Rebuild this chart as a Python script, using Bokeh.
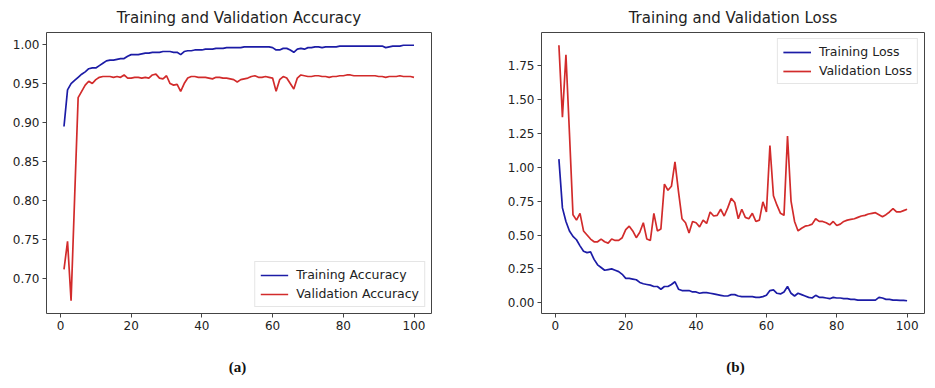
from bokeh.plotting import figure
from bokeh.models import Range1d, FixedTicker, Legend, LegendItem, NumeralTickFormatter, Div, Spacer
from bokeh.layouts import row, column
from bokeh.embed import file_html
from bokeh.resources import INLINE

epochs = list(range(1, 101))

train_acc = [0.895, 0.942, 0.950, 0.954, 0.958, 0.962, 0.965, 0.969, 0.970, 0.970,
             0.973, 0.976, 0.979, 0.980, 0.980, 0.981, 0.982, 0.982, 0.985, 0.987,
             0.987, 0.987, 0.988, 0.989, 0.989, 0.990, 0.990, 0.990, 0.991, 0.991,
             0.991, 0.990, 0.990, 0.987, 0.991, 0.992, 0.992, 0.993, 0.993, 0.993,
             0.994, 0.994, 0.994, 0.995, 0.995, 0.995, 0.996, 0.996, 0.996, 0.996,
             0.996, 0.997, 0.997, 0.997, 0.997, 0.997, 0.997, 0.997, 0.997, 0.996,
             0.993, 0.993, 0.995, 0.995, 0.993, 0.990, 0.994, 0.995, 0.994, 0.996,
             0.996, 0.997, 0.997, 0.996, 0.997, 0.997, 0.997, 0.997, 0.998, 0.998,
             0.998, 0.998, 0.998, 0.998, 0.998, 0.998, 0.998, 0.998, 0.998, 0.998,
             0.998, 0.996, 0.997, 0.998, 0.998, 0.998, 0.999, 0.999, 0.999, 0.999]

val_acc = [0.712, 0.748, 0.672, 0.803, 0.932, 0.940, 0.948, 0.953, 0.950, 0.955,
           0.958, 0.959, 0.959, 0.959, 0.958, 0.959, 0.958, 0.961, 0.957, 0.957,
           0.958, 0.958, 0.957, 0.958, 0.957, 0.961, 0.962, 0.957, 0.956, 0.960,
           0.950, 0.948, 0.949, 0.940, 0.950, 0.957, 0.959, 0.959, 0.958, 0.958,
           0.958, 0.957, 0.956, 0.958, 0.958, 0.957, 0.957, 0.956, 0.955, 0.952,
           0.955, 0.956, 0.957, 0.959, 0.960, 0.958, 0.958, 0.959, 0.958, 0.957,
           0.940, 0.955, 0.959, 0.957, 0.950, 0.943, 0.957, 0.961, 0.960, 0.959,
           0.959, 0.960, 0.960, 0.959, 0.959, 0.958, 0.959, 0.959, 0.960, 0.960,
           0.961, 0.961, 0.960, 0.960, 0.960, 0.960, 0.960, 0.960, 0.960, 0.959,
           0.959, 0.958, 0.959, 0.959, 0.959, 0.960, 0.959, 0.959, 0.959, 0.958]

train_loss = [1.06, 0.70, 0.60, 0.53, 0.49, 0.465, 0.42, 0.38, 0.37, 0.375,
              0.32, 0.28, 0.26, 0.24, 0.245, 0.25, 0.24, 0.23, 0.21, 0.18,
              0.18, 0.175, 0.17, 0.15, 0.14, 0.135, 0.13, 0.12, 0.12, 0.10,
              0.12, 0.12, 0.135, 0.155, 0.10, 0.09, 0.09, 0.09, 0.08, 0.08,
              0.07, 0.075, 0.075, 0.07, 0.065, 0.06, 0.055, 0.05, 0.05, 0.06,
              0.06, 0.05, 0.045, 0.045, 0.045, 0.045, 0.04, 0.04, 0.045, 0.055,
              0.09, 0.095, 0.07, 0.065, 0.08, 0.12, 0.07, 0.05, 0.07, 0.06,
              0.05, 0.04, 0.035, 0.055, 0.04, 0.04, 0.035, 0.03, 0.04, 0.035,
              0.035, 0.03, 0.03, 0.025, 0.025, 0.02, 0.02, 0.02, 0.02, 0.02,
              0.02, 0.04, 0.035, 0.025, 0.025, 0.02, 0.02, 0.018, 0.017, 0.015]

val_loss = [1.90, 1.37, 1.83, 1.25, 0.65, 0.61, 0.66, 0.53, 0.50, 0.47,
            0.45, 0.45, 0.47, 0.45, 0.44, 0.47, 0.46, 0.46, 0.48, 0.54,
            0.565, 0.53, 0.48, 0.52, 0.59, 0.47, 0.46, 0.66, 0.53, 0.545,
            0.875, 0.83, 0.86, 1.04, 0.82, 0.62, 0.59, 0.515, 0.60, 0.59,
            0.56, 0.61, 0.585, 0.67, 0.64, 0.645, 0.69, 0.64, 0.70, 0.77,
            0.74, 0.62, 0.69, 0.63, 0.62, 0.66, 0.60, 0.61, 0.745, 0.67,
            1.16, 0.79, 0.72, 0.66, 0.645, 1.23, 0.75, 0.60, 0.53, 0.55,
            0.565, 0.57, 0.58, 0.62, 0.60, 0.60, 0.59, 0.575, 0.60, 0.57,
            0.58, 0.60, 0.61, 0.615, 0.62, 0.63, 0.64, 0.645, 0.655, 0.66,
            0.665, 0.65, 0.635, 0.65, 0.67, 0.695, 0.67, 0.67, 0.68, 0.69]

x_ticks = [0, 20, 40, 60, 80, 100]
acc_ticks = [0.70, 0.75, 0.80, 0.85, 0.90, 0.95, 1.00]
loss_ticks = [0.00, 0.25, 0.50, 0.75, 1.00, 1.25, 1.50, 1.75]

BLUE = "#1c1ca6"
RED = "#d22b2b"
FONT = "DejaVu Sans"


def padded(lo, hi):
    m = 0.05 * (hi - lo)
    return Range1d(lo - m, hi + m)


def make_fig(title, width, left, right, ys, yticks, names, loc):
    allv = ys[0] + ys[1]
    p = figure(width=width, height=338, output_backend="svg", toolbar_location=None,
               x_range=padded(min(epochs), max(epochs)),
               y_range=padded(min(allv), max(allv)),
               min_border_left=left, min_border_right=right,
               min_border_top=32, min_border_bottom=25)
    p.title.text = title
    p.title.text_font = FONT
    p.title.text_font_size = "15px"
    p.title.text_font_style = "normal"
    p.title.align = "center"
    p.title.text_color = "#222222"
    p.title.standoff = 12
    p.grid.visible = False
    p.outline_line_color = "#444444"
    p.outline_line_width = 1
    for ax in (p.xaxis[0], p.yaxis[0]):
        ax.axis_line_color = None
        ax.major_tick_line_color = "#444444"
        ax.major_tick_out = 4
        ax.major_tick_in = 0
        ax.minor_tick_line_color = None
        ax.major_label_text_font = FONT
        ax.major_label_text_font_size = "12px"
        ax.major_label_text_color = "#222222"
        ax.major_label_standoff = 3
    p.xaxis.ticker = FixedTicker(ticks=x_ticks)
    p.yaxis.ticker = FixedTicker(ticks=yticks)
    p.yaxis.formatter = NumeralTickFormatter(format="0.00")
    r1 = p.line(epochs, ys[0], line_color=BLUE, line_width=1.7)
    r2 = p.line(epochs, ys[1], line_color=RED, line_width=1.7)
    leg = Legend(items=[LegendItem(label=names[0], renderers=[r1]),
                        LegendItem(label=names[1], renderers=[r2])],
                 location=loc, margin=6, padding=5, spacing=4,
                 glyph_width=28, glyph_height=14, label_height=14, label_standoff=8,
                 label_text_font=FONT, label_text_font_size="12.5px",
                 label_text_color="#222222",
                 border_line_color="#cccccc", background_fill_alpha=0.8)
    p.add_layout(leg)
    return p


def caption(text, width):
    html = ('<div style="width:%dpx;padding-top:14px;text-align:center;'
            'font-family:\'Liberation Serif\';font-size:15px;font-weight:bold;'
            'color:#111111;">%s</div>' % (width, text))
    return Div(text=html, width=width, height=42)


p1 = make_fig("Training and Validation Accuracy", 466, 46, 35,
              [train_acc, val_acc], acc_ticks,
              ["Training Accuracy", "Validation Accuracy"], "bottom_right")
p2 = make_fig("Training and Validation Loss", 466, 75, 8,
              [train_loss, val_loss], loss_ticks,
              ["Training Loss", "Validation Loss"], "top_right")

captions = row(Spacer(width=40, height=42), caption("(a)", 385),
               Spacer(width=104, height=42), caption("(b)", 383))
layout = column(row(p1, p2), captions)
open("out.html", "w").write(file_html(layout, INLINE))
